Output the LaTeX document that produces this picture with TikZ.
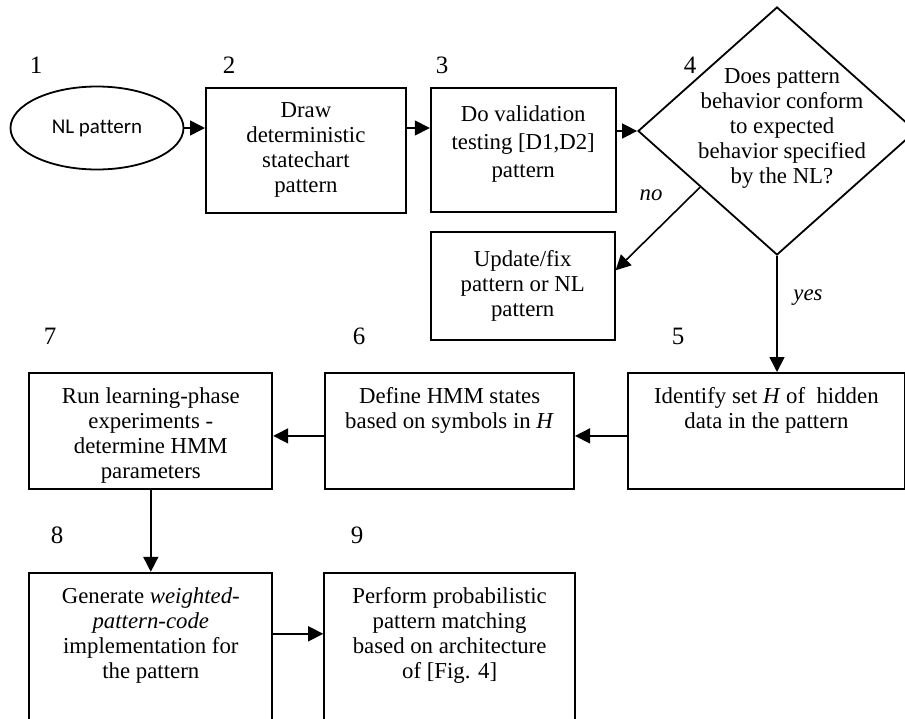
\documentclass[tikz,border=0pt]{standalone}
\usepackage{fontspec}
\setmainfont{Liberation Serif}
\newfontfamily\nlfont[Ligatures=NoCommon]{Carlito}
\usetikzlibrary{positioning}
\usetikzlibrary{arrows.meta}
\usetikzlibrary{calc}
\usetikzlibrary{shapes.geometric}

\begin{document}
\begin{tikzpicture}[
    x=0.5pt, y=-0.5pt,
    stepbox/.style={draw, line width=0.9pt, inner sep=0pt, align=center, font=\fontsize{11.4}{12.5}\selectfont},
    decision/.style={draw, diamond, line width=0.9pt, inner sep=0pt},
    steptext/.style={align=center, inner sep=0pt, font=\fontsize{11.4}{12.5}\selectfont},
    steplabel/.style={inner sep=0pt, font=\fontsize{12.5}{14}\selectfont},
    edgetag/.style={inner sep=0pt, font=\fontsize{11.4}{12.5}\selectfont\itshape},
    arrow/.style={-{Triangle[length=7.5pt, width=7.5pt]}, line width=0.8pt}
]
    \useasboundingbox (0,0) rectangle (905,718);
    \clip (0,0) rectangle (905,718);

    % Top row: pattern, statechart, validation, check
    \node[stepbox, ellipse, minimum width=86.5pt, minimum height=41.5pt, font=\nlfont\fontsize{10.5}{12}\selectfont] (start) at (97,128) {NL pattern};

    \node[stepbox, minimum width=100pt, minimum height=62.5pt, anchor=north west] (sketch) at (205,87) {Draw\\deterministic\\statechart\\pattern};

    \node[stepbox, minimum width=92.5pt, minimum height=62pt, right=11.5pt of sketch.north east, anchor=north west] (validate) {};
    \node[steptext, font=\fontsize{11.4}{14}\selectfont, below=9pt of validate.north] (validatetext) {Do validation\\testing [D1,D2]\\pattern};

    \node[decision, minimum width=139pt, minimum height=124pt] (check) at (777,131) {};
    \node[steptext] (checktext) at ([xshift=2.5pt, yshift=1.5pt]check.center) {Does pattern\\behavior conform\\to expected\\behavior specified\\by the NL?};

    \node[stepbox, minimum width=92pt, minimum height=54pt, below=9pt of validate.south west, anchor=north west] (fix) {Update/fix\\pattern or NL\\pattern};

    % Middle row: hidden data, HMM states, learning phase
    \node[stepbox, minimum width=138.5pt, minimum height=58pt, anchor=north west] (hidden) at (627,372) {};
    \node[stepbox, minimum width=124.5pt, minimum height=58pt, left=26pt of hidden.north west, anchor=north east] (states) {};
    \node[stepbox, minimum width=121.5pt, minimum height=58pt, left=25.5pt of states.north west, anchor=north east] (learn) {};

    \node[steptext, below=7.5pt of hidden.north] (hiddentext) {Identify set \textit{H} of~ hidden\\data in the pattern};
    \node[steptext, below=7.5pt of states.north] (statestext) {Define HMM states\\based on symbols in \textit{H}};
    \node[steptext, below=7.5pt of learn.north] (learntext) {Run learning-phase\\experiments -\\determine HMM\\parameters};

    % Bottom row: code generation, matching
    \node[stepbox, minimum width=121.5pt, minimum height=100pt, below=41pt of learn.south west, anchor=north west] (generate) {};
    \node[stepbox, minimum width=125.5pt, minimum height=100pt, right=25pt of generate.north east, anchor=north west] (match) {};

    \node[steptext, below=7.5pt of generate.north] (generatetext) {Generate \textit{weighted-}\\\textit{pattern-code}\\implementation for\\the pattern};
    \node[steptext, below=7.5pt of match.north] (matchtext) {Perform probabilistic\\pattern matching\\based on architecture\\of [Fig. 4]};

    % Step numbers
    \node[steplabel] (n1) at (36,65) {1};
    \node[steplabel] (n2) at (229,65) {2};
    \node[steplabel] (n3) at (442,65) {3};
    \node[steplabel] (n4) at (690,65) {4};
    \node[steplabel] (n5) at (678,336) {5};
    \node[steplabel] (n6) at (359,336) {6};
    \node[steplabel] (n7) at (50,336) {7};
    \node[steplabel] (n8) at (57,535) {8};
    \node[steplabel] (n9) at (357,535) {9};

    % Connectors
    \draw[arrow] (start.east) -- (start.east -| sketch.west);
    \draw[arrow] (sketch.east |- start.east) -- (start.east -| validate.west);
    \draw[arrow] (validate.east |- check.west) -- (check.west);
    \draw[arrow] ($(check.west)!0.45!(check.south)$) -- ($(fix.north east)!0.36!(fix.south east)$);
    \draw[arrow] (check.south) -- (check.south |- hidden.north);
    \draw[arrow] ([yshift=-2.5pt]hidden.west) -- ([yshift=-2.5pt]states.east);
    \draw[arrow] ([yshift=-2.5pt]states.west) -- ([yshift=-2.5pt]learn.east);
    \draw[arrow] (learn.south) -- (generate.north);
    \draw[arrow] ([yshift=-31pt]generate.north east) -- ([yshift=-31pt]match.north west);

    \node[edgetag] (notag) at (651,195) {no};
    \node[edgetag] (yestag) at (808,298) {yes};
\end{tikzpicture}
\end{document}
